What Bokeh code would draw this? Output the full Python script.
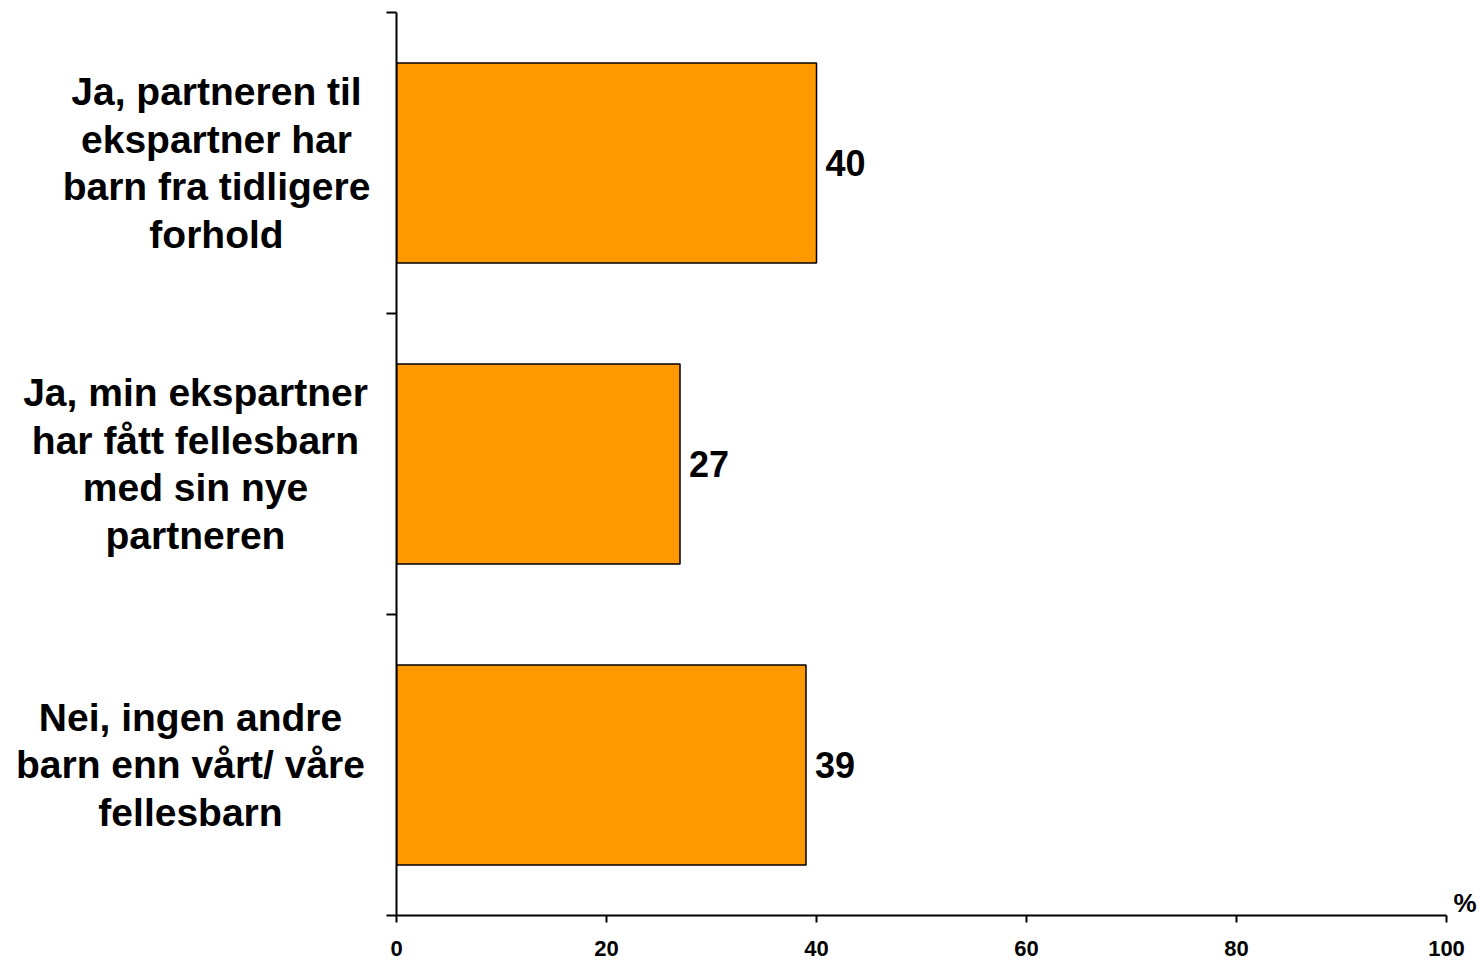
from bokeh.plotting import figure
from bokeh.layouts import row
from bokeh.models import FixedTicker, ColumnDataSource, LinearAxis
from bokeh.core.properties import value
from bokeh.embed import file_html
from bokeh.resources import INLINE

categories = [
    "Ja, partneren til\nekspartner har\nbarn fra tidligere\nforhold",
    "Ja, min ekspartner\nhar fått fellesbarn\nmed sin nye\npartneren",
    "Nei, ingen andre\nbarn enn vårt/ våre\nfellesbarn",
]
values = [40, 27, 39]
x_ticks = [0, 20, 40, 60, 80, 100]
unit_label = "%"

# layout only: horizontal centres (px) of the wrapped category label blocks
label_centres = [216, 195, 190]
positions = [2.5, 1.5, 0.5]
unit_pos = 0.04  # places the unit label just above the x axis

FONT = "Liberation Sans"
LEFT_W = 380
TOP, BOTTOM = 12, 45

p = figure(width=1480 - LEFT_W, height=960, x_range=(0, 100), y_range=(0, 3),
           output_backend="svg", toolbar_location=None,
           min_border_left=16, min_border_right=34, min_border_top=TOP, min_border_bottom=BOTTOM)
p.outline_line_color = None
p.grid.visible = False

src = ColumnDataSource(dict(y=positions, v=values, t=[str(v) for v in values]))
p.hbar(y="y", right="v", left=0, height=0.665, source=src,
       fill_color="#FF9900", line_color="black", line_width=1.5)
p.text(x="v", y="y", text="t", source=src, x_offset=9,
       text_align="left", text_baseline="middle",
       text_font=value(FONT), text_font_style="bold", text_font_size=value("36px"),
       text_color="black")

xa = p.xaxis[0]
xa.ticker = FixedTicker(ticks=x_ticks)
xa.minor_tick_line_color = None
xa.major_tick_out = 7
xa.major_tick_in = 0
xa.axis_line_width = 2
xa.major_tick_line_width = 2
xa.major_label_text_font = FONT
xa.major_label_text_font_style = "bold"
xa.major_label_text_font_size = "22px"
xa.major_label_text_color = "black"
xa.major_label_standoff = 18

ya = p.yaxis[0]
ya.ticker = FixedTicker(ticks=[0, 1, 2, 3])
ya.minor_tick_line_color = None
ya.major_tick_out = 10
ya.major_tick_in = 0
ya.axis_line_width = 2
ya.major_tick_line_width = 2
ya.major_label_overrides = {0: "", 1: "", 2: "", 3: ""}
ya.major_label_standoff = 0

ra = LinearAxis(ticker=FixedTicker(ticks=[unit_pos]), major_label_overrides={unit_pos: unit_label},
                axis_line_color=None, major_tick_line_color=None, minor_tick_line_color=None,
                major_tick_out=0, major_tick_in=0, major_label_standoff=7,
                major_label_text_font=FONT, major_label_text_font_style="bold",
                major_label_text_font_size="26px", major_label_text_color="black")
p.add_layout(ra, "right")

# left panel carrying the category labels, sharing the y scale
lp = figure(width=LEFT_W, height=960, x_range=(0, LEFT_W), y_range=p.y_range,
            output_backend="svg", toolbar_location=None,
            x_axis_location=None, y_axis_location=None,
            min_border_left=0, min_border_right=0, min_border_top=TOP, min_border_bottom=BOTTOM)
lp.outline_line_color = None
lp.grid.visible = False
lsrc = ColumnDataSource(dict(x=label_centres, y=positions, t=categories))
lp.text(x="x", y="y", text="t", source=lsrc, text_align="center", text_baseline="middle",
        text_font=value(FONT), text_font_style="bold", text_font_size=value("39px"),
        text_line_height=1.104, text_color="black")

layout = row(lp, p, spacing=0)
open("out.html", "w").write(file_html(layout, INLINE))
